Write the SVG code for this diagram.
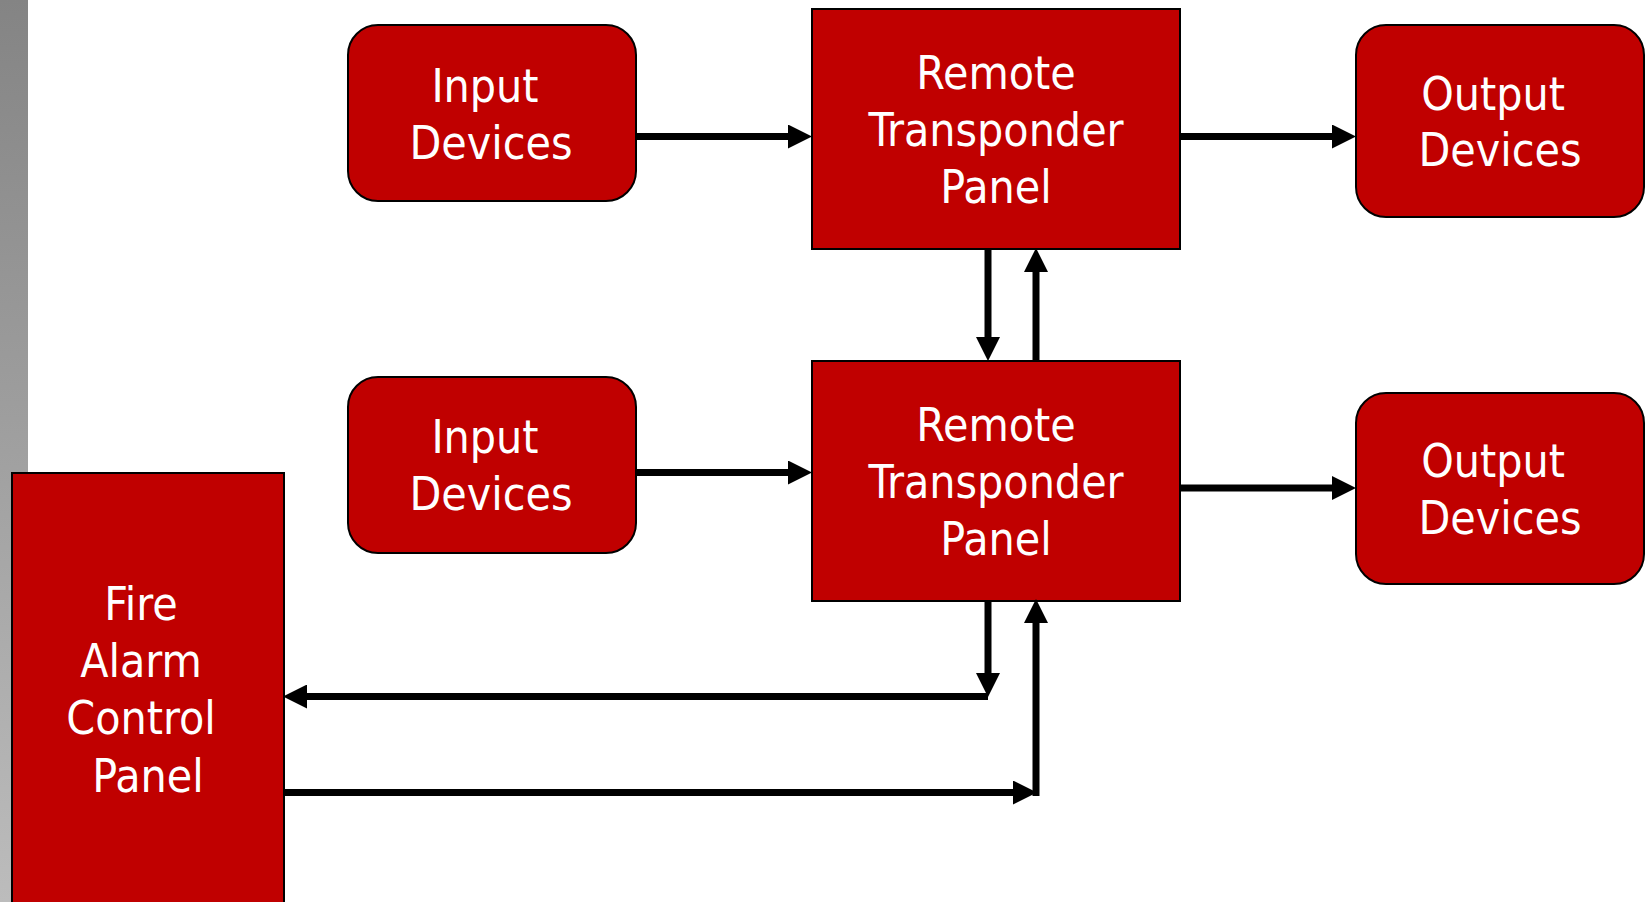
<svg xmlns="http://www.w3.org/2000/svg" width="1646" height="902" viewBox="0 0 1646 902">
<style>
.box{fill:#C00000;stroke:#000;stroke-width:2}
.lbl{fill:#fff;font-family:"DejaVu Sans Condensed","DejaVu Sans",sans-serif;font-size:46px;text-anchor:middle}
.con{fill:none;stroke:#000;stroke-width:7;marker-end:url(#ah)}
</style>
<defs>
<linearGradient id="bar" x1="0" y1="0" x2="0" y2="1">
<stop offset="0" stop-color="#848484"/>
<stop offset="1" stop-color="#bcbcbc"/>
</linearGradient>
<marker id="ah" markerUnits="userSpaceOnUse" markerWidth="24" markerHeight="24" viewBox="0 0 24 24" refX="3" refY="12" orient="auto">
<path d="M0,0 L24,12 L0,24 z" fill="#000"/>
</marker>
</defs>
<rect width="1646" height="902" fill="#fff"/>
<rect x="0" y="0" width="28" height="902" fill="url(#bar)"/>

<g id="input1">
<rect class="box" x="348" y="25" width="288" height="176" rx="30"/>
<text class="lbl" x="485" y="102">Input</text>
<text class="lbl" x="491" y="159">Devices</text>
</g>
<g id="rtp1">
<rect class="box" x="812" y="9" width="368" height="240"/>
<text class="lbl" x="996" y="89">Remote</text>
<text class="lbl" x="996" y="146">Transponder</text>
<text class="lbl" x="996" y="203">Panel</text>
</g>
<g id="output1">
<rect class="box" x="1356" y="25" width="288" height="192" rx="30"/>
<text class="lbl" x="1493" y="110">Output</text>
<text class="lbl" x="1500" y="166">Devices</text>
</g>
<g id="input2">
<rect class="box" x="348" y="377" width="288" height="176" rx="30"/>
<text class="lbl" x="485" y="453">Input</text>
<text class="lbl" x="491" y="510">Devices</text>
</g>
<g id="rtp2">
<rect class="box" x="812" y="361" width="368" height="240"/>
<text class="lbl" x="996" y="441">Remote</text>
<text class="lbl" x="996" y="498">Transponder</text>
<text class="lbl" x="996" y="555">Panel</text>
</g>
<g id="output2">
<rect class="box" x="1356" y="393" width="288" height="191" rx="30"/>
<text class="lbl" x="1493" y="477">Output</text>
<text class="lbl" x="1500" y="534">Devices</text>
</g>
<g id="facp">
<rect class="box" x="12" y="473" width="272" height="440"/>
<text class="lbl" x="141" y="620">Fire</text>
<text class="lbl" x="141" y="677">Alarm</text>
<text class="lbl" x="141" y="734">Control</text>
<text class="lbl" x="148" y="792">Panel</text>
</g>

<g id="connectors">
<path class="con" d="M636,136.5 H791"/>
<path class="con" d="M1180,136.5 H1335"/>
<path class="con" d="M636,472.5 H791"/>
<path class="con" d="M1180,488 H1335"/>
<path class="con" d="M988,249 V340"/>
<path class="con" d="M1036,361 V269"/>
<path class="con" d="M988,601 V676"/>
<path class="con" d="M988,696.5 H304"/>
<path class="con" d="M284,792.5 H1016"/>
<path class="con" d="M1036,796 V620"/>
</g>
</svg>
